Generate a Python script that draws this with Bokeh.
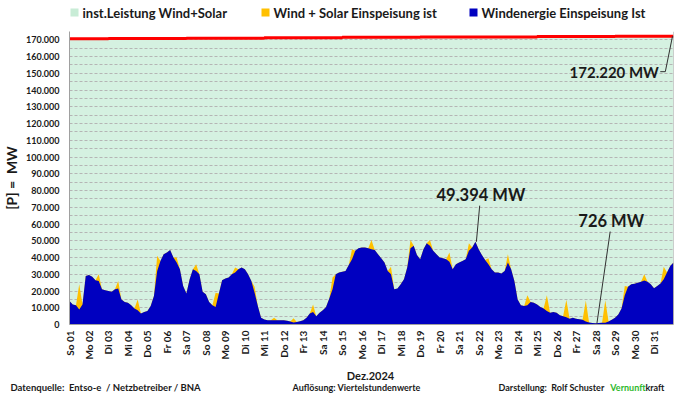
import numpy as np
from math import pi
from bokeh.plotting import figure
from bokeh.models import FixedTicker, Label, Span, Range1d
from bokeh.embed import file_html
from bokeh.resources import INLINE
from bokeh.core.properties import value

# ---------------- data ----------------
day_labels = ["So 01", "Mo 02", "Di 03", "Mi 04", "Do 05", "Fr 06", "Sa 07", "So 08",
              "Mo 09", "Di 10", "Mi 11", "Do 12", "Fr 13", "Sa 14", "So 15", "Mo 16",
              "Di 17", "Mi 18", "Do 19", "Fr 20", "Sa 21", "So 22", "Mo 23", "Di 24",
              "Mi 25", "Do 26", "Fr 27", "Sa 28", "So 29", "Mo 30", "Di 31"]

y_tick_values = [0, 10000, 20000, 30000, 40000, 50000, 60000, 70000, 80000, 90000,
                 100000, 110000, 120000, 130000, 140000, 150000, 160000, 170000]
y_tick_labels = ["0", "10.000", "20.000", "30.000", "40.000", "50.000", "60.000",
                 "70.000", "80.000", "90.000", "100.000", "110.000", "120.000",
                 "130.000", "140.000", "150.000", "160.000", "170.000"]

# wind feed-in (MW), 4-hour samples (00,04,08,12,16,20 h) for each day of Dec 2024
wind_mw = [
    14000, 12000, 11500, 9000, 12000, 29000,     # 01
    29500, 28500, 26500, 26000, 21000, 20500,    # 02
    20000, 19500, 21000, 21500, 15000, 13500,    # 03
    13000, 11500, 9500, 8500, 6500, 7500,        # 04
    8000, 11000, 17000, 32000, 38000, 42000,     # 05
    43000, 44500, 40000, 37000, 33000, 23000,    # 06
    18500, 27000, 33000, 32000, 30000, 19500,    # 07
    18000, 13500, 11500, 10500, 18500, 26500,    # 08
    27500, 28000, 30000, 31000, 33000, 34000,    # 09
    33000, 30000, 26000, 19000, 11000, 4000,     # 10
    3000, 2500, 2500, 2500, 2500, 2500,          # 11
    2500, 2200, 1800, 1200, 1500, 2000,          # 12
    2600, 4000, 6500, 7500, 5000, 7000,          # 13
    8500, 10500, 15500, 21000, 30000, 31000,     # 14
    31500, 32000, 35500, 39000, 44000, 45500,    # 15
    46000, 46000, 45500, 45000, 44500, 42000,    # 16
    39500, 37000, 32000, 30000, 21000, 21500,    # 17
    24000, 27000, 34000, 45500, 47000, 41500,    # 18
    39000, 45000, 48500, 47000, 44000, 42000,    # 19
    40000, 39500, 39000, 37500, 33000, 36000,    # 20
    37000, 38000, 39000, 44000, 46000, 49394,    # 21
    45000, 41500, 38500, 36000, 33000, 31000,    # 22
    31000, 30500, 32000, 37000, 33000, 26000,    # 23
    15000, 11500, 11000, 11500, 13500, 13000,    # 24
    12000, 10500, 9500, 8000, 7000, 7500,        # 25
    7000, 5500, 5000, 4300, 3500, 4000,          # 26
    3500, 3200, 2800, 1800, 1200, 900,           # 27
    726, 900, 1000, 1000, 1800, 2800,            # 28
    4000, 6000, 9500, 17500, 22500, 24000,       # 29
    24300, 25000, 25500, 26300, 25500, 24000,    # 30
    21700, 23000, 24500, 27000, 31000, 35000,    # 31
    37000,                                       # 01 Jan 00h
]

# additional solar feed-in at midday (MW), one value per day
solar_noon_mw = [15000, 4000, 4500, 6500, 9000, 3000, 4000, 8500, 3000, 3500,
                 1500, 2500, 4500, 7000, 6000, 5400, 4500, 5000, 3500, 5500,
                 4500, 3500, 5000, 6000, 9500, 10500, 12500, 13500, 5500, 3700, 7500]

# installed capacity wind + solar (MW), step changes
cap_day = [0, 2, 6, 10, 14, 18, 24, 28, 31]
cap_mw = [170600, 170800, 171000, 171250, 171500, 171700, 171950, 172100, 172220]

legend_labels = ["inst.Leistung Wind+Solar", "Wind + Solar Einspeisung ist",
                 "Windenergie Einspeisung Ist"]

SAMPLES_PER_DAY = 6

# ---------------- derived ----------------
wind = np.array(wind_mw, dtype=float)
x = np.arange(len(wind)) / SAMPLES_PER_DAY
total = wind.copy()
for d, s in enumerate(solar_noon_mw):
    total[d * SAMPLES_PER_DAY + SAMPLES_PER_DAY // 2] += s

FONT = "Lato"
TXT = "#1a1a1a"
GREEN_BG = "#d5f1e1"
BLUE = "#0000c0"
ORANGE = "#ffc000"
W = 678
HEAD_H = 24
MAIN_H = 338
FOOT_H = 395 - HEAD_H - MAIN_H


def strip_fig(h):
    f = figure(width=W, height=h, x_range=Range1d(0, W), y_range=Range1d(h, 0),
               output_backend="svg", toolbar_location=None,
               min_border_left=0, min_border_right=0, min_border_top=0, min_border_bottom=0)
    f.axis.visible = False
    f.grid.visible = False
    f.outline_line_color = None
    return f


# ---------------- header (legend) ----------------
head = strip_fig(HEAD_H)
leg_sq_x = [74, 265, 473]
leg_tx_x = [82, 273, 481]
leg_cols = ["#c8ecd6", ORANGE, BLUE]
head.rect(x=leg_sq_x, y=[12] * 3, width=8, height=8, fill_color=leg_cols, line_color=None)
head.text(x=leg_tx_x, y=[12] * 3, text=legend_labels, text_font=value(FONT),
          text_font_style="bold", text_font_size="13px", text_baseline="middle",
          text_color=TXT)

# ---------------- main chart ----------------
p = figure(width=W, height=MAIN_H, x_range=Range1d(0, 31), y_range=Range1d(0, 175000),
           output_backend="svg", toolbar_location=None,
           min_border_left=66, min_border_right=5, min_border_top=7, min_border_bottom=36)
p.outline_line_color = None

r = p.varea_step(x=cap_day, y1=[0] * len(cap_day), y2=cap_mw, step_mode="after",
                 fill_color=GREEN_BG)
r.level = "image"

p.xgrid.visible = False
p.ygrid.ticker = FixedTicker(ticks=list(range(5000, 175001, 5000)))
p.ygrid.grid_line_color = "#b5b5b5"
p.ygrid.grid_line_dash = "3 2"
p.ygrid.grid_line_width = 1

p.varea(x=x, y1=0, y2=total, fill_color=ORANGE)
p.varea(x=x, y1=0, y2=wind, fill_color=BLUE)

p.step(cap_day, cap_mw, mode="after", line_color="#ff0000", line_width=3)
p.add_layout(Span(location=31, dimension="height", line_color="#a0a0a0", line_width=1))

p.yaxis.ticker = FixedTicker(ticks=y_tick_values)
p.yaxis.major_label_overrides = {v: l for v, l in zip(y_tick_values, y_tick_labels)}
p.yaxis.major_label_text_font = FONT
p.yaxis.major_label_text_font_style = "bold"
p.yaxis.major_label_text_font_size = "9px"
p.yaxis.major_label_text_color = TXT
p.yaxis.major_tick_out = 0
p.yaxis.major_tick_in = 0
p.yaxis.minor_tick_out = 0
p.yaxis.minor_tick_in = 0
p.yaxis.axis_line_color = "#a0a0a0"
p.yaxis.major_label_standoff = 10
p.yaxis.axis_label = "[P] =\u00a0 MW"
p.yaxis.axis_label_text_font = FONT
p.yaxis.axis_label_text_font_style = "bold"
p.yaxis.axis_label_text_font_size = "14px"
p.yaxis.axis_label_text_color = TXT
p.yaxis.axis_label_standoff = 3

p.xaxis.ticker = FixedTicker(ticks=list(range(len(day_labels))))
p.xaxis.major_label_overrides = {i: l for i, l in enumerate(day_labels)}
p.xaxis.major_label_orientation = pi / 2
p.xaxis.major_label_text_font = FONT
p.xaxis.major_label_text_font_style = "bold"
p.xaxis.major_label_text_font_size = "10px"
p.xaxis.major_label_text_color = TXT
p.xaxis.major_tick_out = 0
p.xaxis.major_tick_in = 0
p.xaxis.minor_tick_out = 0
p.xaxis.minor_tick_in = 0
p.xaxis.axis_line_color = "#a0a0a0"
p.xaxis.major_label_standoff = 6


def fmt(v):
    return f"{int(round(v)):,}".replace(",", ".") + " MW"


def dlab(text, xx, yy, size, align="center"):
    p.add_layout(Label(x=xx, y=yy, text=text, text_font=FONT, text_font_style="bold",
                       text_font_size=size, text_align=align, text_baseline="middle",
                       text_color=TXT))


i_max = int(np.argmax(wind))
i_min = int(np.argmin(wind))
x_max, y_max = x[i_max], wind[i_max]
x_min, y_min = x[i_min], wind[i_min]

p.line([x_max + 0.22, x_max + 0.05], [71000, y_max], line_color="#303030", line_width=1)
dlab(fmt(y_max), x_max + 0.28, 77500, "16.5px")

p.line([x_min + 0.75, x_min + 0.07], [55500, y_min], line_color="#303030", line_width=1)
dlab(fmt(y_min), x_min + 0.8, 61800, "16.5px")

p.line([cap_day[-1] - 0.68, cap_day[-1] - 0.42, cap_day[-1] - 0.05],
       [151000, 151000, cap_mw[-1]], line_color="#303030", line_width=1)
dlab(fmt(cap_mw[-1]), cap_day[-1] - 0.75, 151000, "15px", align="right")

# ---------------- footer ----------------
foot = strip_fig(FOOT_H)
y0 = HEAD_H + MAIN_H  # page y of footer top


def flab(text, xx, yy, size, align="left", color=TXT):
    foot.add_layout(Label(x=xx, y=yy - y0, text=text, text_font=FONT, text_font_style="bold",
                          text_font_size=size, text_align=align, text_baseline="middle",
                          text_color=color))


flab("Dez.2024", 370, 375, "11px", align="center")
flab("Datenquelle:\u00a0 Entso-e\u00a0 / Netzbetreiber / BNA", 10, 387, "9.5px")
flab("Auflösung: Viertelstundenwerte", 292, 387, "9px")
flab("Darstellung:\u00a0 Rolf Schuster", 498, 387, "9px")
flab("Vernunft", 645, 387, "9px", align="right", color="#2eb82e")
flab("kraft", 645, 387, "9px")

open("out.html", "w").write(file_html([head, p, foot], INLINE))
